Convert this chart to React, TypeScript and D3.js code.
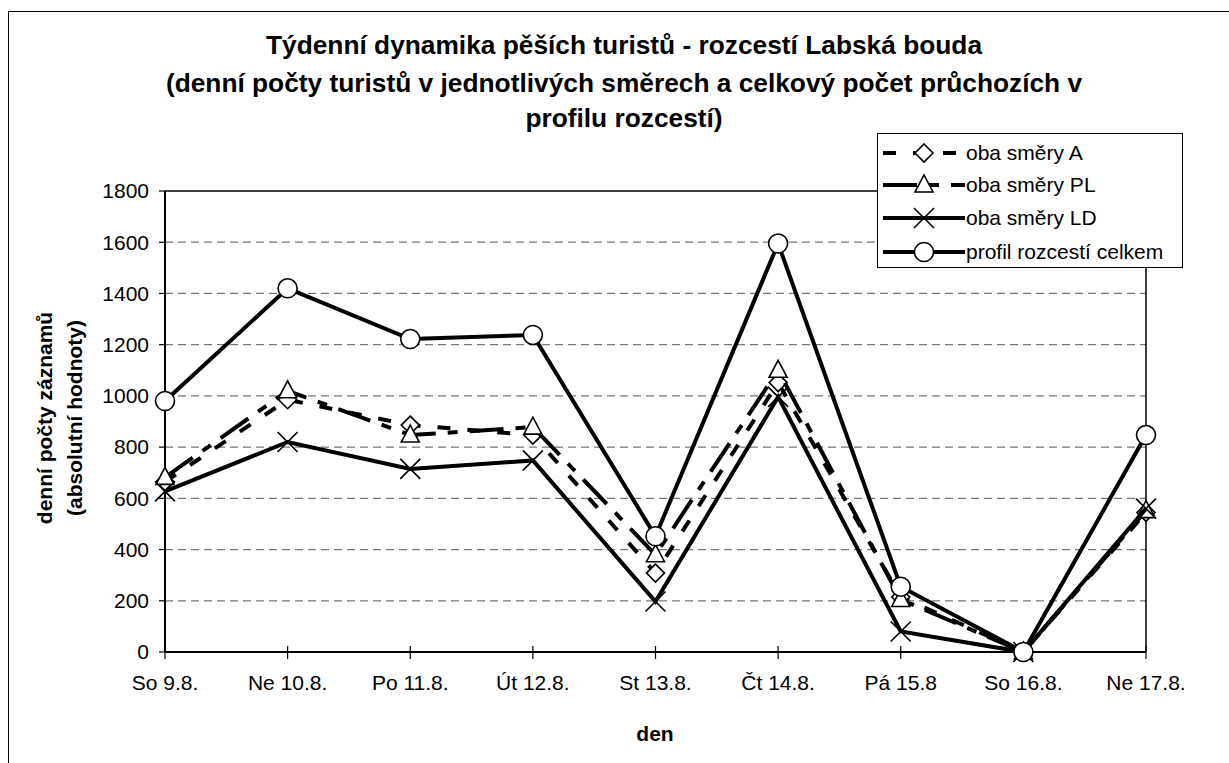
import React from "react";
import * as d3 from "d3";

const categories = ["So 9.8.", "Ne 10.8.", "Po 11.8.", "Út 12.8.", "St 13.8.", "Čt 14.8.", "Pá 15.8", "So 16.8.", "Ne 17.8."];
const serieA = [665, 985, 886, 847, 308, 1052, 215, 0, 545];
const seriePL = [682, 1020, 847, 878, 380, 1100, 205, 0, 552];
const serieLD = [627, 820, 715, 748, 197, 996, 80, 0, 560];
const serieProfil = [980, 1420, 1222, 1238, 452, 1595, 255, 0, 847];
const yTicks = [0, 200, 400, 600, 800, 1000, 1200, 1400, 1600, 1800];
const seriesNames = ["oba směry A", "oba směry PL", "oba směry LD", "profil rozcestí celkem"];
const titleLines = [
  "Týdenní dynamika pěších turistů - rozcestí Labská bouda",
  "(denní počty turistů v jednotlivých směrech a celkový počet průchozích v",
  "profilu rozcestí)",
];

const FONT = "'Liberation Sans', Arial, sans-serif";

type Marker = "diamond" | "triangle" | "x" | "circle";

function MarkerShape({ type, x, y }: { type: Marker; x: number; y: number }) {
  const sw = 1.6;
  if (type === "circle") return <circle cx={x} cy={y} r={9.5} fill="#fff" stroke="#000" strokeWidth={sw} />;
  if (type === "diamond") {
    const s = 9;
    return <path d={`M${x},${y - s}L${x + s},${y}L${x},${y + s}L${x - s},${y}Z`} fill="#fff" stroke="#000" strokeWidth={sw} />;
  }
  if (type === "triangle") {
    return <path d={`M${x},${y - 10}L${x + 9},${y + 7}L${x - 9},${y + 7}Z`} fill="#fff" stroke="#000" strokeWidth={sw} />;
  }
  const s = 10;
  return <path d={`M${x - s},${y - s}L${x + s},${y + s}M${x - s},${y + s}L${x + s},${y - s}`} stroke="#000" strokeWidth={sw} fill="none" />;
}

export default function App() {
  const left = 165, right = 1146, top = 191, bottom = 652;
  const x = d3.scalePoint<string>().domain(categories).range([left, right]).padding(0);
  const y = d3.scaleLinear().domain([0, 1800]).range([bottom, top]);

  const series: { name: string; values: number[]; marker: Marker; dash?: string }[] = [
    { name: seriesNames[0], values: serieA, marker: "diamond", dash: "13,17" },
    { name: seriesNames[1], values: seriePL, marker: "triangle", dash: "34,12,10,12" },
    { name: seriesNames[2], values: serieLD, marker: "x" },
    { name: seriesNames[3], values: serieProfil, marker: "circle" },
  ];

  const line = d3
    .line<number>()
    .x((_, i) => x(categories[i]) as number)
    .y((d) => y(d));

  const legendX = 877, legendY = 133, legendW = 305, legendH = 134;
  const rowY = [153, 185, 218, 252];

  return (
    <svg width={1229} height={763} style={{ position: "absolute", left: 0, top: 0, background: "#fff" }} fontFamily={FONT}>
      <rect x={0} y={0} width={1229} height={763} fill="#fff" />
      <rect x={8.5} y={11.5} width={1240} height={780} fill="none" stroke="#000" strokeWidth={1} />

      {titleLines.map((t, i) => (
        <text key={i} x={624} y={[54, 92, 127][i]} textAnchor="middle" fontSize={26.3} fontWeight="bold">
          {t}
        </text>
      ))}

      {/* gridlines */}
      {yTicks.filter((t) => t > 0 && t < 1800).map((t) => (
        <line key={t} x1={left} x2={right} y1={y(t)} y2={y(t)} stroke="#777" strokeWidth={1.2} strokeDasharray="8,5" />
      ))}

      {/* plot border */}
      <line x1={left} x2={right} y1={top} y2={top} stroke="#000" strokeWidth={1.5} />
      <line x1={right} x2={right} y1={top} y2={bottom} stroke="#000" strokeWidth={1.5} />
      <line x1={left} x2={left} y1={top} y2={bottom} stroke="#000" strokeWidth={2} />
      <line x1={left} x2={right} y1={bottom} y2={bottom} stroke="#000" strokeWidth={2} />

      {/* y ticks */}
      {yTicks.map((t) => (
        <g key={t}>
          <line x1={left - 6} x2={left} y1={y(t)} y2={y(t)} stroke="#000" strokeWidth={1.2} />
          <text x={149} y={y(t)} dy="0.35em" textAnchor="end" fontSize={21}>
            {t}
          </text>
        </g>
      ))}

      {/* x ticks */}
      {categories.map((c) => (
        <g key={c}>
          <line x1={x(c)} x2={x(c)} y1={bottom - 6} y2={bottom + 7} stroke="#000" strokeWidth={1.2} />
          <text x={x(c)} y={683} dy="0.35em" textAnchor="middle" fontSize={21}>
            {c}
          </text>
        </g>
      ))}

      <text x={655} y={734} dy="0.35em" textAnchor="middle" fontSize={21} fontWeight="bold">
        den
      </text>
      <g transform="translate(45,418) rotate(-90)">
        <text x={0} y={0} dy="0.35em" textAnchor="middle" fontSize={21} fontWeight="bold">
          denní počty záznamů
        </text>
        <text x={0} y={30} dy="0.35em" textAnchor="middle" fontSize={21} fontWeight="bold">
          (absolutní hodnoty)
        </text>
      </g>

      {/* series */}
      {series.map((s) => (
        <g key={s.name}>
          <path d={line(s.values) || ""} fill="none" stroke="#000" strokeWidth={4} strokeDasharray={s.dash} />
          {s.values.map((v, i) => (
            <MarkerShape key={i} type={s.marker} x={x(categories[i]) as number} y={y(v)} />
          ))}
        </g>
      ))}

      {/* legend */}
      <rect x={legendX + 0.5} y={legendY + 0.5} width={legendW} height={legendH} fill="#fff" stroke="#000" strokeWidth={1} />
      {series.map((s, i) => (
        <g key={s.name}>
          <line x1={883} x2={965} y1={rowY[i]} y2={rowY[i]} stroke="#000" strokeWidth={4} strokeDasharray={s.dash} />
          <MarkerShape type={s.marker} x={924} y={rowY[i]} />
          <text x={966} y={rowY[i]} dy="0.35em" fontSize={21}>
            {s.name}
          </text>
        </g>
      ))}
    </svg>
  );
}
